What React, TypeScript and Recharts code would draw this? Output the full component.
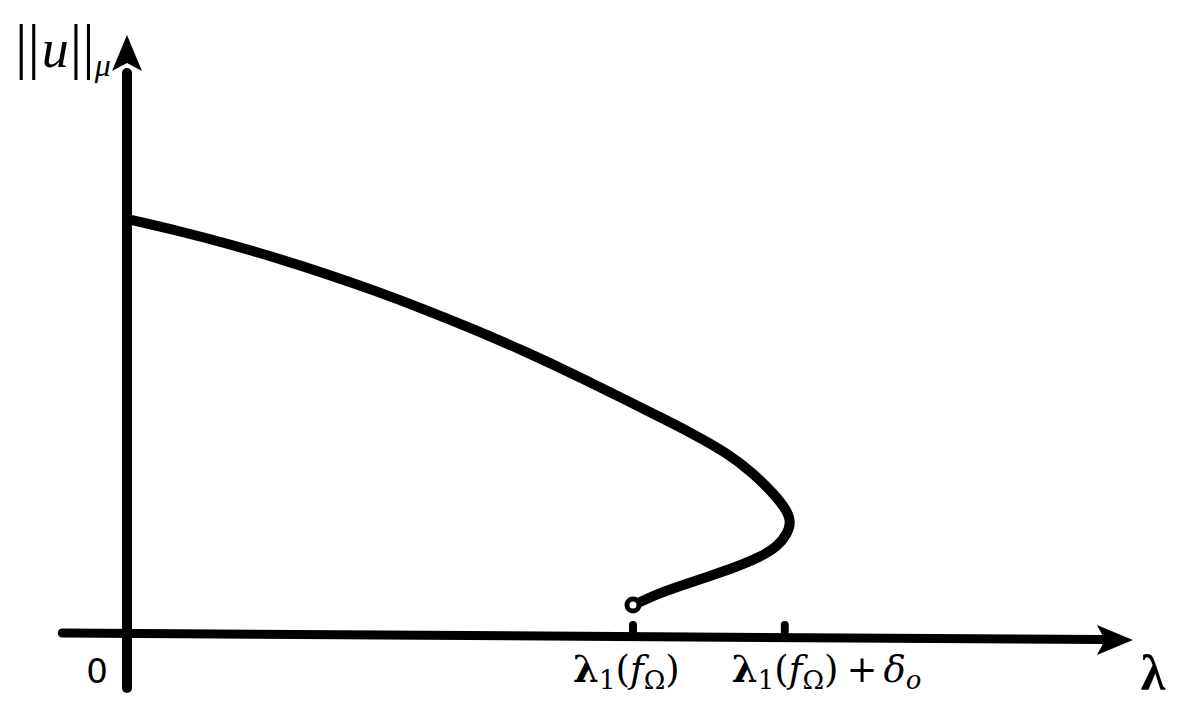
import React from 'react';
import { ComposedChart, Line, Scatter, XAxis, YAxis, ReferenceLine } from 'recharts';

// solution branch (lambda, ||u||)
const curveLambda = [
  0, 0.099, 0.198, 0.296, 0.395, 0.494, 0.593, 0.692, 0.791, 0.889, 0.988, 1.053, 1.119, 1.186,
  1.237, 1.277, 1.304, 1.312, 1.306, 1.285, 1.251, 1.204, 1.146, 1.099, 1.053, 1.014,
];
const curveNorm = [
  4.16, 4.045, 3.915, 3.77, 3.61, 3.436, 3.247, 3.044, 2.826, 2.593, 2.345, 2.18, 2.01, 1.82,
  1.62, 1.42, 1.25, 1.13, 1.02, 0.88, 0.78, 0.68, 0.58, 0.5, 0.42, 0.33,
];

// open end point of the branch
const holeLambda = [1.0];
const holeNorm = [0.3];

// tick marks on the lambda axis
const tickLambda = [0, 1, 1.3];
const tickNames = ['0', 'lambda1', 'lambda1+delta'];

// axis extents (data units)
const xAxisStart = -0.128;
const xAxisEnd = 1.988;
const yAxisStart = -0.53;
const yAxisEnd = 6.0;

const curveData = curveLambda.map((lambda, i) => ({ lambda, norm: curveNorm[i] }));
const holeData = holeLambda.map((lambda, i) => ({ lambda, norm: holeNorm[i] }));
const tickData = tickLambda.map((lambda, i) => ({ lambda, norm: 0, name: tickNames[i] }));
const arrowData = [
  { lambda: xAxisEnd, norm: -0.05, dir: 'right' },
  { lambda: 0, norm: yAxisEnd, dir: 'up' },
];

const serif = '"Liberation Serif", "DejaVu Serif", serif';
const labelSerif = '"DejaVu Serif", serif';

const ArrowHead = (props: any) => {
  const { cx, cy, payload } = props;
  if (payload.dir === 'right') {
    const pts = `${cx},${cy} ${cx - 36},${cy - 15} ${cx - 28},${cy} ${cx - 36},${cy + 15}`;
    return (
      <g>
        <polygon points={pts} fill="#000" />
        <text x={cx + 20} y={cy + 50} textAnchor="middle" fontFamily={serif} fontWeight="bold" fontSize={50} fill="#000">λ</text>
      </g>
    );
  }
  const pts = `${cx},${cy} ${cx + 15},${cy + 36} ${cx},${cy + 28} ${cx - 15},${cy + 36}`;
  return (
    <g>
      <polygon points={pts} fill="#000" />
      <text x={cx - 112} y={cy + 32} fontFamily={serif} fontSize={62} fill="#000">
        ||<tspan fontStyle="italic" fontSize={54} dx={2}>u</tspan>
        <tspan dx={1}>||</tspan>
        <tspan fontStyle="italic" fontSize={32} dy={9}>μ</tspan>
      </text>
    </g>
  );
};

const TickLabel = (props: any) => {
  const { cx, cy, payload } = props;
  if (payload.name === '0') {
    return (
      <text x={cx - 30} y={cy + 48} textAnchor="middle" fontFamily='"DejaVu Sans", sans-serif' fontSize={34} fill="#000">0</text>
    );
  }
  const base = (
    <>
      <tspan fontWeight="bold">λ</tspan>
      <tspan fontSize={26} dy={7}>1</tspan>
      <tspan dy={-7}>(</tspan>
      <tspan fontStyle="italic">f</tspan>
      <tspan fontSize={26} dy={7}>Ω</tspan>
      <tspan dy={-7}>)</tspan>
    </>
  );
  const mark = <rect x={cx - 4} y={cy - 14} width={8} height={14} rx={4} fill="#000" />;
  if (payload.name === 'lambda1') {
    return (
      <g>
        {mark}
        <text x={cx - 60} y={cy + 47} fontFamily={labelSerif} fontSize={37} fill="#000">{base}</text>
      </g>
    );
  }
  return (
    <g>
      {mark}
      <text x={cx - 53} y={cy + 47} fontFamily={labelSerif} fontSize={37} fill="#000">
        {base}
        <tspan dx={8}>+</tspan>
        <tspan dx={6} fontStyle="italic">δ</tspan>
        <tspan fontStyle="italic" fontSize={26} dy={7}>o</tspan>
      </text>
    </g>
  );
};

const Hole = (props: any) => {
  const { cx, cy } = props;
  return <circle cx={cx} cy={cy} r={6} fill="#fff" stroke="#000" strokeWidth={5} />;
};

export default function App() {
  return (
    <div style={{ position: 'absolute', left: 0, top: 0, background: '#fff' }}>
      <ComposedChart width={1190} height={720} margin={{ top: 0, right: 0, bottom: 0, left: 0 }}>
        <XAxis type="number" dataKey="lambda" domain={[-0.25099, 2.10079]} allowDataOverflow hide />
        <YAxis type="number" dataKey="norm" domain={[-0.85, 6.35]} allowDataOverflow hide />
        <ReferenceLine
          segment={[{ x: xAxisStart, y: 0.02 }, { x: 1.93, y: -0.046 }]}
          stroke="#000"
          strokeWidth={9}
          strokeLinecap="round"
          ifOverflow="visible"
        />
        <ReferenceLine
          segment={[{ x: 0, y: yAxisStart }, { x: 0, y: 5.62 }]}
          stroke="#000"
          strokeWidth={10}
          strokeLinecap="round"
          ifOverflow="visible"
        />
        <Line
          data={curveData}
          dataKey="norm"
          type="basis"
          stroke="#000"
          strokeWidth={10}
          strokeLinecap="round"
          dot={false}
          activeDot={false}
          isAnimationActive={false}
        />
        <Scatter data={arrowData} dataKey="norm" shape={ArrowHead} isAnimationActive={false} />
        <Scatter data={tickData} dataKey="norm" shape={TickLabel} isAnimationActive={false} />
        <Scatter data={holeData} dataKey="norm" shape={Hole} isAnimationActive={false} />
      </ComposedChart>
    </div>
  );
}
